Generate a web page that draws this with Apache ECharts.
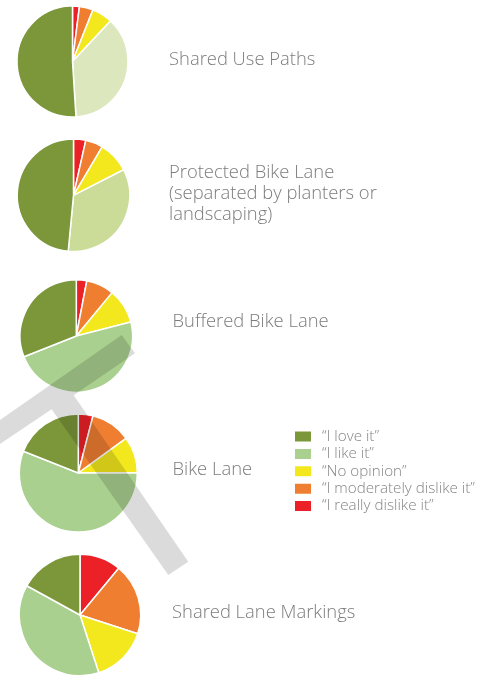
<!DOCTYPE html>
<html>
<head>
<meta charset="utf-8">
<script src="https://cdn.jsdelivr.net/npm/echarts@6/dist/echarts.min.js"></script>
<style>
  html, body { margin: 0; padding: 0; background: #ffffff; }
  #chart { width: 489px; height: 677px; }
</style>
</head>
<body>
<div id="chart"></div>
<script>
// Survey responses (% of respondents) for each bikeway facility type
const facilities = [
  'Shared Use Paths',
  'Protected Bike Lane\n(separated by planters or\nlandscaping)',
  'Buffered Bike Lane',
  'Bike Lane',
  'Shared Lane Markings'
];
const categories = ['“I love it”', '“I like it”', '“No opinion”', '“I moderately dislike it”', '“I really dislike it”'];
const loveIt            = [51, 48.5, 31, 19, 17];
const likeIt            = [37, 34, 48, 56, 38];
const noOpinion         = [6, 9, 10, 10, 15];
const moderatelyDislike = [4, 5, 8, 11, 19];
const reallyDislike     = [2, 3.5, 3, 4, 11];

// Styling
const colors = {
  love: '#7c963a',
  like: '#a9d08e',
  none: '#f3e81e',
  moderate: '#ef7e31',
  really: '#ec2127'
};
// the first two pies use paler tints of the "like" green
const likeTints = ['#dde7bd', '#cbdc99', colors.like, colors.like, colors.like];

// Layout (pixels)
const pieCenters = [[72.5, 61.5], [73.5, 195.3], [76.3, 336], [78.3, 473], [80, 615]];
const pieRadii = [55.5, 56.3, 56.3, 59, 60.7];
const titleX = [169, 169, 172.5, 172.5, 172];
const titleY = [60, 194, 321.5, 469.5, 613];

const textColor = '#7c7c7c';
const fontFamily = '"Open Sans", "Noto Sans", sans-serif';

const series = facilities.map(function (name, i) {
  return {
    type: 'pie',
    name: name,
    center: pieCenters[i],
    radius: pieRadii[i],
    startAngle: 90,
    clockwise: true,
    silent: true,
    label: { show: false },
    labelLine: { show: false },
    itemStyle: { borderColor: '#ffffff', borderWidth: 1.5 },
    data: [
      { name: categories[4], value: reallyDislike[i], itemStyle: { color: colors.really } },
      { name: categories[3], value: moderatelyDislike[i], itemStyle: { color: colors.moderate } },
      { name: categories[2], value: noOpinion[i], itemStyle: { color: colors.none } },
      { name: categories[1], value: likeIt[i], itemStyle: { color: likeTints[i] } },
      { name: categories[0], value: loveIt[i], itemStyle: { color: colors.love } }
    ]
  };
});

const legendColors = [colors.love, colors.like, colors.none, colors.moderate, colors.really];

// facility names beside each pie
const titleTexts = facilities.map(function (name, i) {
  return {
    type: 'text',
    z: 5,
    silent: true,
    style: {
      text: name,
      x: titleX[i],
      y: titleY[i],
      fill: textColor,
      font: '300 18.4px ' + fontFamily,
      lineHeight: 21,
      verticalAlign: 'middle'
    }
  };
});

// translucent grey bracket drawn across the middle pies
const bracket = {
  type: 'polygon',
  z: 10,
  silent: true,
  shape: {
    points: [
      [-20, 434], [121.7, 335], [135, 353.3], [73.7, 395.2],
      [188.3, 561.7], [168.3, 575], [51.6, 409.2], [-20, 457.5]
    ]
  },
  style: { fill: 'rgba(0,0,0,0.14)' }
};

const chart = echarts.init(document.getElementById('chart'));
chart.setOption({
  animation: false,
  backgroundColor: '#ffffff',
  legend: {
    orient: 'vertical',
    left: 293,
    top: 429,
    padding: 0,
    icon: 'rect',
    itemWidth: 18,
    itemHeight: 12,
    itemGap: 2.4,
    selectedMode: false,
    textStyle: {
      color: '#858585',
      fontFamily: fontFamily,
      fontWeight: 300,
      fontSize: 15.2,
      lineHeight: 12,
      padding: [0, 0, 0, 5]
    },
    data: categories.map(function (c, k) {
      return { name: c, itemStyle: { color: legendColors[k] } };
    })
  },
  graphic: titleTexts.concat([bracket]),
  series: series
});
</script>
</body>
</html>
